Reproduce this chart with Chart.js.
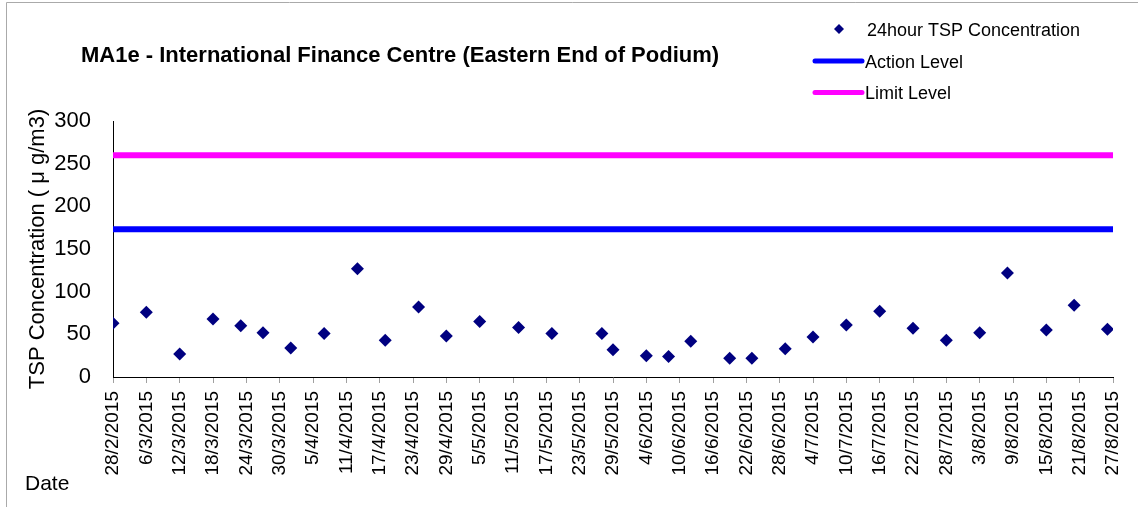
<!DOCTYPE html>
<html>
<head>
<meta charset="utf-8">
<script src="https://cdn.jsdelivr.net/npm/chart.js@4.4.1/dist/chart.umd.min.js"></script>
<style>
  html, body { margin: 0; padding: 0; background: #fff; }
  #wrap { width: 1138px; height: 507px; }
</style>
</head>
<body>
<div id="wrap"><canvas id="chartCanvas" width="1138" height="507"></canvas></div>
<script>
// sampling dates and 24-hour TSP results
const sampleDates = [
  "28/2/2015", "6/3/2015", "12/3/2015", "18/3/2015", "23/3/2015", "27/3/2015",
  "1/4/2015", "7/4/2015", "13/4/2015", "18/4/2015", "24/4/2015", "29/4/2015",
  "5/5/2015", "12/5/2015", "18/5/2015", "27/5/2015", "29/5/2015", "4/6/2015",
  "8/6/2015", "12/6/2015", "19/6/2015", "23/6/2015", "29/6/2015", "4/7/2015",
  "10/7/2015", "16/7/2015", "22/7/2015", "28/7/2015", "3/8/2015", "8/8/2015",
  "15/8/2015", "20/8/2015", "26/8/2015"
];
const tspValues = [
  63, 76, 27, 68, 60, 52,
  34, 51, 127, 43, 82, 48,
  65, 58, 51, 51, 32, 25,
  24, 42, 22, 22, 33, 47,
  61, 77, 57, 43, 52, 122,
  55, 84, 56
];
const actionLevel = 173;
const limitLevel = 260;

const tickLabels = [
  "28/2/2015", "6/3/2015", "12/3/2015", "18/3/2015", "24/3/2015", "30/3/2015",
  "5/4/2015", "11/4/2015", "17/4/2015", "23/4/2015", "29/4/2015", "5/5/2015",
  "11/5/2015", "17/5/2015", "23/5/2015", "29/5/2015", "4/6/2015", "10/6/2015",
  "16/6/2015", "22/6/2015", "28/6/2015", "4/7/2015", "10/7/2015", "16/7/2015",
  "22/7/2015", "28/7/2015", "3/8/2015", "9/8/2015", "15/8/2015", "21/8/2015",
  "27/8/2015"
];

// days since first tick date
function dayOf(s) {
  const p = s.split("/").map(Number);
  const t0 = Date.UTC(2015, 1, 28);
  return Math.round((Date.UTC(p[2], p[1] - 1, p[0]) - t0) / 86400000);
}
const xMin = dayOf(tickLabels[0]);
const xMax = dayOf(tickLabels[tickLabels.length - 1]);

const FONT = "'Liberation Sans', Arial, sans-serif";
Chart.defaults.font.family = FONT;
Chart.defaults.color = "#000";

const NAVY = "#000080";
const BLUE = "#0000FF";
const MAGENTA = "#FF00FF";

const extras = {
  id: "extras",
  afterDraw(chart) {
    const ctx = chart.ctx;
    ctx.save();
    // outer frame
    ctx.strokeStyle = "#aaaaaa";
    ctx.lineWidth = 1;
    ctx.beginPath();
    ctx.moveTo(6.5, 507);
    ctx.lineTo(6.5, 2.5);
    ctx.lineTo(1138, 2.5);
    ctx.stroke();

    // title
    ctx.fillStyle = "#000";
    ctx.textAlign = "left";
    ctx.textBaseline = "alphabetic";
    ctx.font = "bold 22px " + FONT;
    ctx.fillText("MA1e - International Finance Centre (Eastern End of Podium)", 81, 62);

    // legend
    ctx.font = "18px " + FONT;
    ctx.fillStyle = NAVY;
    ctx.beginPath();
    ctx.moveTo(839, 24);
    ctx.lineTo(844, 29);
    ctx.lineTo(839, 34);
    ctx.lineTo(834, 29);
    ctx.closePath();
    ctx.fill();
    ctx.fillStyle = "#000";
    ctx.fillText("24hour TSP Concentration", 867, 36);

    ctx.lineCap = "round";
    ctx.lineWidth = 5;
    ctx.strokeStyle = BLUE;
    ctx.beginPath();
    ctx.moveTo(815, 61);
    ctx.lineTo(862, 61);
    ctx.stroke();
    ctx.fillText("Action Level", 865, 68);

    ctx.strokeStyle = MAGENTA;
    ctx.beginPath();
    ctx.moveTo(815, 92.5);
    ctx.lineTo(862, 92.5);
    ctx.stroke();
    ctx.fillText("Limit Level", 865, 99);

    // x axis caption
    ctx.font = "21px " + FONT;
    ctx.fillText("Date", 25, 490);
    ctx.restore();
  }
};

const pointData = sampleDates.map((d, i) => ({ x: dayOf(d), y: tspValues[i] }));

new Chart(document.getElementById("chartCanvas"), {
  type: "scatter",
  data: {
    datasets: [
      {
        label: "24hour TSP Concentration",
        data: pointData,
        pointStyle: "rectRot",
        pointRadius: 6.5,
        backgroundColor: NAVY,
        borderColor: NAVY,
        borderWidth: 0,
        order: 0
      },
      {
        label: "Action Level",
        type: "line",
        data: [{ x: xMin, y: actionLevel }, { x: xMax, y: actionLevel }],
        borderColor: BLUE,
        borderWidth: 6,
        pointRadius: 0,
        order: 1
      },
      {
        label: "Limit Level",
        type: "line",
        data: [{ x: xMin, y: limitLevel }, { x: xMax, y: limitLevel }],
        borderColor: MAGENTA,
        borderWidth: 6,
        pointRadius: 0,
        order: 1
      }
    ]
  },
  options: {
    responsive: false,
    animation: false,
    devicePixelRatio: 1,
    layout: { padding: { top: 121, right: 25, left: 0, bottom: 0 } },
    plugins: {
      legend: { display: false },
      tooltip: { enabled: false }
    },
    scales: {
      x: {
        type: "linear",
        min: xMin,
        max: xMax,
        afterFit(scale) {
          scale.height = 130;
          scale.paddingLeft = 0;
          scale.paddingRight = 0;
        },
        afterBuildTicks(scale) {
          scale.ticks = tickLabels.map(t => ({ value: dayOf(t) }));
        },
        ticks: {
          autoSkip: false,
          minRotation: 90,
          maxRotation: 90,
          padding: 8,
          font: { size: 19 },
          callback: (v, i) => tickLabels[i]
        },
        grid: {
          drawOnChartArea: false,
          drawTicks: true,
          tickLength: 6,
          color: "#a0a0a0"
        },
        border: { display: true, color: "#000", width: 1 }
      },
      y: {
        min: 0,
        max: 300,
        afterFit(scale) {
          scale.width = 113;
          scale.paddingTop = 0;
          scale.paddingBottom = 0;
        },
        ticks: {
          stepSize: 50,
          padding: 22,
          font: { size: 22 }
        },
        grid: { display: false, drawTicks: false },
        border: { display: true, color: "#000", width: 1 },
        title: {
          display: true,
          text: "TSP Concentration ( μ g/m3)",
          font: { size: 22 },
          padding: { top: 25, bottom: 0 }
        }
      }
    }
  },
  plugins: [extras]
});
</script>
</body>
</html>
